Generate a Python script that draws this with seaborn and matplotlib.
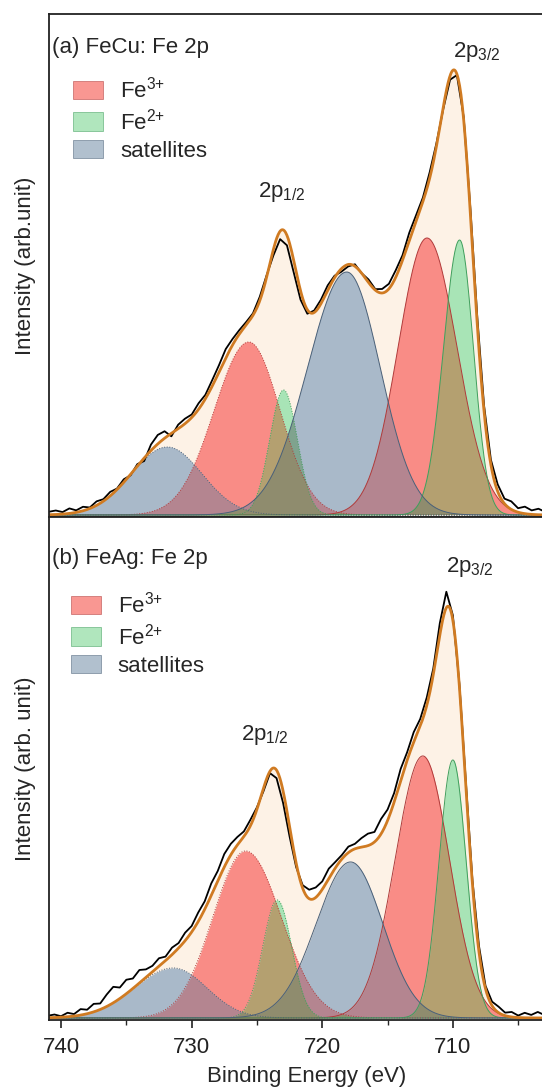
import numpy as np
import matplotlib
matplotlib.use('Agg')
import matplotlib.pyplot as plt
import seaborn as sns
from matplotlib.patches import Patch

# fitted components: centre (eV), height, half widths (high-BE side, low-BE side)
kinds = ['Fe3+', 'Fe3+', 'Fe2+', 'Fe2+', 'sat', 'sat']
styles = ['-', ':', '-', ':', '-', ':']

centers_a = [713.2, 726.3, 710.8, 723.75, 719.1, 732.3]
heights_a = [277, 173, 275, 125, 243, 68]
hw_left_a = [2.5, 3.0, 1.4, 1.2, 3.4, 3.1]
hw_right_a = [2.6, 2.7, 1.2, 1.2, 2.9, 3.0]

centers_b = [712.3, 725.87, 710.0, 723.45, 717.83, 731.4]
heights_b = [262, 167, 258, 118, 156, 50]
hw_left_b = [2.5, 2.95, 1.25, 1.3, 3.1, 3.5]
hw_right_b = [2.4, 3.2, 1.2, 1.3, 2.9, 3.0]

# measured spectrum = fit envelope + residual, residual read every 0.5 eV from 741 to 703 eV
res_a = [3, 4, 2, 5, 2, 4, 1, 4, 2, 4, 1, 3, -1, 2, -3, 6, 9, 7, -3, 4,
         5, 3, 6, 4, 6, 7, 9, 6, 4, 3, 2, 4, 2, -6, -8, -10, -12, -9, -4, 2,
         4, 5, 2, -3, -2, 2, 0, 3, 1, 4, 5, 7, 5, 8, 6, 4, 6, 3, -2, -4,
         -1, 3, 6, 8, 6, 5, 7, 5, 8, 4, 7, 4, 6, 3, 5, 3, 4]
res_b = [2, 3, 1, 4, 2, 6, 4, 8, 6, 12, 16, 11, 14, 10, 13, 8, 6, 8, 4, 7,
         5, 8, 6, 9, 8, 12, 10, 13, 11, 8, 5, 6, 2, -3, -2, -8, -12, -10, -4, 3,
         9, 10, 8, 10, 6, 4, 6, 5, 9, 12, 10, 15, 11, 9, 12, 8, 10, 7, 8, 6,
         12, 16, 5, 3, 5, 4, 6, 3, 4, 6, 3, 5, 2, 5, 3, 6, 3]

e_samples = np.linspace(741.0, 703.0, 77)
e_fine = np.linspace(741.0, 701.0, 801)

fill_col = {'Fe3+': '#f98c86', 'Fe2+': '#a8e4b6', 'sat': '#a9b9c9'}
edge_col = {'Fe3+': '#b03a3a', 'Fe2+': '#3f9e5c', 'sat': '#4a6078'}
mix_col = {
    ('Fe3+', 'Fe3+'): '#d87070',
    ('Fe2+', 'Fe2+'): '#80c898',
    ('sat', 'sat'): '#8c9cae',
    ('Fe2+', 'Fe3+'): '#b4a070',
    ('Fe3+', 'sat'): '#b48590',
    ('Fe2+', 'sat'): '#7fa38e',
}
mix3_col = '#8f8c6e'


def peak(e, c, h, wl, wr):
    w = np.where(e >= c, wl, wr)
    return h * np.exp(-np.log(2) * ((e - c) / w) ** 2)


sns.set_theme(style="ticks")
plt.rcParams['font.family'] = ['Liberation Sans', 'DejaVu Sans']
plt.rcParams['mathtext.default'] = 'regular'
FS = 16

fig = plt.figure(figsize=(5.42, 10.91), dpi=100)
ax_a = fig.add_axes([0.0904, 0.5261, 0.95, 0.4611])
ax_b = fig.add_axes([0.0904, 0.0651, 0.95, 0.4611])

panels = [
    (ax_a, centers_a, heights_a, hw_left_a, hw_right_a, res_a, (741.0, 703.13),
     '(a) FeCu: Fe 2p', 'Intensity (arb.unit)', (709.5, 463), (723.9, 323), 0.934, 0.897, 0.0256),
    (ax_b, centers_b, heights_b, hw_left_b, hw_right_b, res_b, (740.92, 701.5),
     '(b) FeAg: Fe 2p', 'Intensity (arb. unit)', (708.7, 451), (724.4, 283), 0.918, 0.873, 0.0213),
]

for ax, cen, hei, wl, wr, res, xlim, title, ylab, pos32, pos12, ty, ly, lx in panels:
    comps = [peak(e_fine, c, h, l, r) for c, h, l, r in zip(cen, hei, wl, wr)]
    env = np.sum(comps, axis=0)
    env_s = np.sum([peak(e_samples, c, h, l, r) for c, h, l, r in zip(cen, hei, wl, wr)], axis=0)
    measured = env_s + np.array(res)

    ax.fill_between(e_fine, 0, env, color='#fdf2e6', lw=0)
    for k, y in zip(kinds, comps):
        ax.fill_between(e_fine, 0, y, color=fill_col[k], lw=0)
    n = len(comps)
    for i in range(n):
        for j in range(i + 1, n):
            ov = np.minimum(comps[i], comps[j])
            if ov.max() > 1:
                key = tuple(sorted([kinds[i], kinds[j]]))
                ax.fill_between(e_fine, 0, ov, color=mix_col[key], lw=0)
    for i in range(n):
        for j in range(i + 1, n):
            for m in range(j + 1, n):
                ov = np.minimum(np.minimum(comps[i], comps[j]), comps[m])
                if ov.max() > 1:
                    ax.fill_between(e_fine, 0, ov, color=mix3_col, lw=0)
    for k, st, y in zip(kinds, styles, comps):
        ax.plot(e_fine, y, color=edge_col[k], lw=0.7, ls=st)

    sns.lineplot(x=e_samples, y=measured, ax=ax, color='black', lw=1.3, sort=False, estimator=None)
    sns.lineplot(x=e_fine, y=env, ax=ax, color='#d07b22', lw=2.0, sort=False, estimator=None)

    ax.set_xlim(*xlim)
    ax.set_ylim(-2, 501)
    ax.set_yticks([])
    ax.set_xticks([740, 730, 720, 710])
    ax.set_xticks([735, 725, 715, 705], minor=True)
    ax.tick_params(axis='x', which='major', direction='out', length=6, width=1.2,
                   labelsize=FS, pad=6, colors='#222222')
    ax.tick_params(axis='x', which='minor', direction='out', length=3.5, width=1.0)
    for sp in ax.spines.values():
        sp.set_linewidth(1.3)
        sp.set_color('#222222')

    ax.text(0.006, ty, title, transform=ax.transAxes, fontsize=FS, va='center', ha='left')
    ax.text(pos32[0], pos32[1], '2p$_{3/2}$', fontsize=FS, ha='center', va='center')
    ax.text(pos12[0], pos12[1], '2p$_{1/2}$', fontsize=FS, ha='center', va='center')
    ax.set_ylabel(ylab, fontsize=FS, labelpad=9)

    handles = [Patch(facecolor=fill_col[k], edgecolor=edge_col[k], lw=0.4, alpha=0.9)
               for k in ['Fe3+', 'Fe2+', 'sat']]
    ax.legend(handles, ['Fe$^{3{+}}$', 'Fe$^{2{+}}$', 'satellites'], loc='upper left',
              bbox_to_anchor=(lx, ly), frameon=False, fontsize=FS, borderpad=0,
              handlelength=1.35, handleheight=0.9, labelspacing=0.25, handletextpad=0.75)

ax_a.tick_params(axis='x', labelbottom=False)
ax_b.set_xlabel('Binding Energy (eV)', fontsize=FS, labelpad=6)

fig.savefig('out.png', dpi=100)
